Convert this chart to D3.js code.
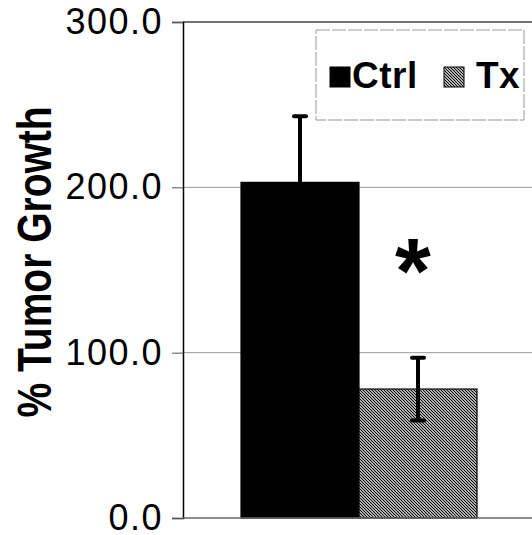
<!DOCTYPE html>
<html>
<head>
<meta charset="utf-8">
<script src="https://cdn.jsdelivr.net/npm/d3@7"></script>
<style>
  body { margin: 0; background: #fff; }
  svg { display: block; font-family: "Liberation Sans", Arial, sans-serif; }
</style>
</head>
<body>
<div id="chart"></div>
<script>
// data
var groups = ["Tumor"];
var series = ["Ctrl", "Tx"];
var means = [203, 78];
var errors = [40, 19];
var yTicks = [0, 100, 200, 300];

var W = 532, H = 535;
var margin = {top: 22, right: -3, bottom: 17, left: 183};
var width = W - margin.left - margin.right;
var height = H - margin.top - margin.bottom;

var svg = d3.select("#chart").append("svg")
  .attr("width", W)
  .attr("height", H);

// hatch for the treated bar
var defs = svg.append("defs");
var pat = defs.append("pattern")
  .attr("id", "hatch")
  .attr("patternUnits", "userSpaceOnUse")
  .attr("width", 3).attr("height", 3);
pat.append("rect").attr("width", 3).attr("height", 3).attr("fill", "#fff");
pat.append("path")
  .attr("d", "M-1,-1 L4,4 M-1,2 L1,4 M2,-1 L4,1")
  .attr("stroke", "#000").attr("stroke-width", 1.2);

var g = svg.append("g")
  .attr("transform", "translate(" + margin.left + "," + margin.top + ")");

var y = d3.scaleLinear().domain([0, 300]).range([height, 0]);
var x0 = d3.scaleBand().domain(groups).range([0, width]).paddingOuter(0.2458).paddingInner(0);
var x1 = d3.scaleBand().domain(series).range([0, x0.bandwidth()]);

// grid lines
g.selectAll(".grid").data(yTicks.filter(function(d){ return d > 0; })).enter()
  .append("line")
  .attr("class", "grid")
  .attr("x1", 0).attr("x2", width)
  .attr("y1", function(d){ return y(d); })
  .attr("y2", function(d){ return y(d); })
  .attr("stroke", function(d){ return d === 300 ? "#444" : "#999"; })
  .attr("stroke-width", function(d){ return d === 300 ? 1.3 : 1; });

// bars
var data = series.map(function(s, i){ return {s: s, v: means[i], e: errors[i]}; });
var grp = g.selectAll(".grp").data(groups).enter().append("g")
  .attr("transform", function(d){ return "translate(" + x0(d) + ",0)"; });

grp.selectAll("rect").data(data).enter().append("rect")
  .attr("x", function(d){ return x1(d.s); })
  .attr("width", x1.bandwidth())
  .attr("y", function(d){ return y(d.v); })
  .attr("height", function(d){ return y(0) - y(d.v); })
  .attr("fill", function(d){ return d.s === "Ctrl" ? "#000" : "url(#hatch)"; })
  .attr("stroke", "#000").attr("stroke-width", 1.2);

// error bars
grp.selectAll(".err").data(data).enter().append("line")
  .attr("class", "err")
  .attr("x1", function(d){ return x1(d.s) + x1.bandwidth() / 2; })
  .attr("x2", function(d){ return x1(d.s) + x1.bandwidth() / 2; })
  .attr("y1", function(d){ return y(d.v - d.e); })
  .attr("y2", function(d){ return y(d.v + d.e); })
  .attr("stroke", "#000").attr("stroke-width", 4);

grp.selectAll(".capTop").data(data).enter().append("line")
  .attr("x1", function(d){ return x1(d.s) + x1.bandwidth() / 2 - 6; })
  .attr("x2", function(d){ return x1(d.s) + x1.bandwidth() / 2 + 6; })
  .attr("y1", function(d){ return y(d.v + d.e); })
  .attr("y2", function(d){ return y(d.v + d.e); })
  .attr("stroke", "#000").attr("stroke-width", 4).attr("stroke-linecap", "round");

grp.selectAll(".capBot").data(data).enter().append("line")
  .attr("x1", function(d){ return x1(d.s) + x1.bandwidth() / 2 - 6; })
  .attr("x2", function(d){ return x1(d.s) + x1.bandwidth() / 2 + 6; })
  .attr("y1", function(d){ return y(d.v - d.e); })
  .attr("y2", function(d){ return y(d.v - d.e); })
  .attr("stroke", "#000").attr("stroke-width", 4).attr("stroke-linecap", "round");

// significance mark
g.append("text")
  .attr("x", x1("Tx") + x0(groups[0]) + x1.bandwidth() / 2 - 5)
  .attr("y", y(140) + 16)
  .attr("text-anchor", "middle")
  .style("font-size", "92px").style("font-weight", "bold")
  .text("*");

// y axis
var yAxis = d3.axisLeft(y).tickValues(yTicks).tickSize(11).tickPadding(9)
  .tickFormat(d3.format(".1f"));
var ya = g.append("g").call(yAxis);
ya.select(".domain").attr("stroke", "#000").attr("stroke-width", 1.5);
ya.selectAll(".tick line").attr("stroke", "#555");
ya.selectAll(".tick text")
  .style("font-size", "36px")
  .style("letter-spacing", "1.5px")
  .attr("fill", "#000");

// x axis baseline
g.append("line")
  .attr("x1", 0).attr("x2", width)
  .attr("y1", y(0)).attr("y2", y(0))
  .attr("stroke", "#666").attr("stroke-width", 1.3);

// y title (the scan is a bit wide, so the glyphs are stretched sideways)
svg.append("text")
  .attr("transform", "translate(51,262) scale(1.25,1) rotate(-90)")
  .attr("text-anchor", "middle")
  .style("font-size", "39px").style("font-weight", "bold")
  .text("% Tumor Growth");

// legend
var lg = svg.append("g").attr("transform", "translate(316,30)");
lg.append("rect")
  .attr("width", 208).attr("height", 90)
  .attr("fill", "#fff").attr("stroke", "#999").attr("stroke-width", 1)
  .attr("stroke-dasharray", "14,2");

var items = lg.selectAll(".item").data(series).enter().append("g")
  .attr("transform", function(d, i){ return "translate(" + (i === 0 ? 14 : 128) + ",37)"; });
items.append("rect")
  .attr("width", 20).attr("height", 20)
  .attr("fill", function(d){ return d === "Ctrl" ? "#000" : "url(#hatch)"; })
  .attr("stroke", "#000").attr("stroke-width", 1);
items.append("text")
  .attr("x", function(d){ return d === "Ctrl" ? 22 : 32; })
  .attr("y", 21)
  .style("font-size", "37px").style("font-weight", "bold")
  .style("letter-spacing", "0.5px")
  .text(function(d){ return d; });
</script>
</body>
</html>
